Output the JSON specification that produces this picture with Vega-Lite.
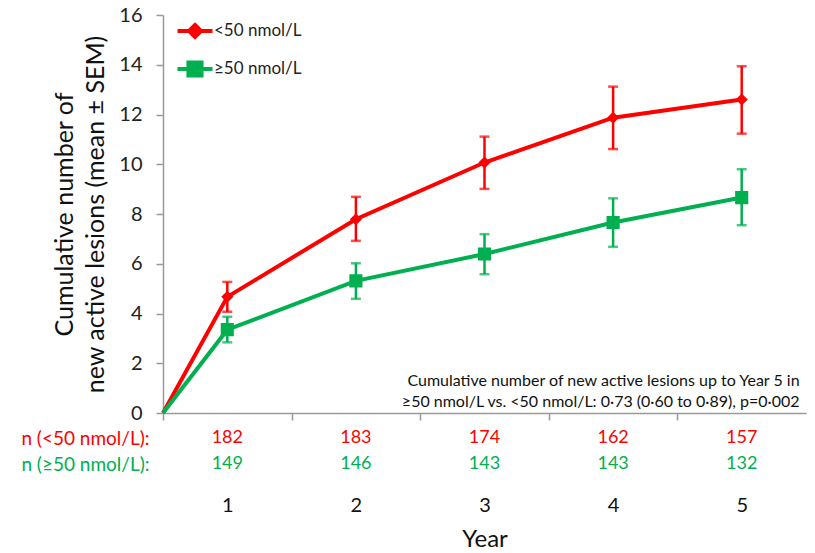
{
  "$schema": "https://vega.github.io/schema/vega-lite/v6.json",
  "padding": {"left": 20, "top": 5, "right": 5, "bottom": 5},
  "background": "white",
  "config": {"view": {"stroke": null}, "font": "Lato", "concat": {"spacing": 2}},
  "datasets": {
    "series": [
      {"group": "<50 nmol/L", "year": 0.5, "mean": 0, "lo": 0, "hi": 0},
      {"group": "<50 nmol/L", "year": 1, "mean": 4.67, "lo": 4.07, "hi": 5.27},
      {"group": "<50 nmol/L", "year": 2, "mean": 7.79, "lo": 6.92, "hi": 8.69},
      {"group": "<50 nmol/L", "year": 3, "mean": 10.07, "lo": 9.01, "hi": 11.11},
      {"group": "<50 nmol/L", "year": 4, "mean": 11.87, "lo": 10.61, "hi": 13.12},
      {"group": "<50 nmol/L", "year": 5, "mean": 12.6, "lo": 11.23, "hi": 13.94},
      {"group": "≥50 nmol/L", "year": 0.5, "mean": 0, "lo": 0, "hi": 0},
      {"group": "≥50 nmol/L", "year": 1, "mean": 3.35, "lo": 2.84, "hi": 3.87},
      {"group": "≥50 nmol/L", "year": 2, "mean": 5.31, "lo": 4.59, "hi": 6.02},
      {"group": "≥50 nmol/L", "year": 3, "mean": 6.39, "lo": 5.58, "hi": 7.19},
      {"group": "≥50 nmol/L", "year": 4, "mean": 7.66, "lo": 6.68, "hi": 8.63},
      {"group": "≥50 nmol/L", "year": 5, "mean": 8.66, "lo": 7.55, "hi": 9.8}
    ],
    "notes": [
      {"x": 5.45, "y": 1.29, "text": "Cumulative number of new active lesions up to Year 5 in"},
      {"x": 5.45, "y": 0.44, "text": "≥50 nmol/L vs. <50 nmol/L: 0·73 (0·60 to 0·89), p=0·002"}
    ],
    "counts": [
      {"row": "n (<50 nmol/L):", "year": 1, "n": 182},
      {"row": "n (<50 nmol/L):", "year": 2, "n": 183},
      {"row": "n (<50 nmol/L):", "year": 3, "n": 174},
      {"row": "n (<50 nmol/L):", "year": 4, "n": 162},
      {"row": "n (<50 nmol/L):", "year": 5, "n": 157},
      {"row": "n (≥50 nmol/L):", "year": 1, "n": 149},
      {"row": "n (≥50 nmol/L):", "year": 2, "n": 146},
      {"row": "n (≥50 nmol/L):", "year": 3, "n": 143},
      {"row": "n (≥50 nmol/L):", "year": 4, "n": 143},
      {"row": "n (≥50 nmol/L):", "year": 5, "n": 132}
    ]
  },
  "resolve": {"scale": {"color": "independent", "x": "independent", "y": "independent"}},
  "vconcat": [
    {
      "width": 643,
      "height": 398,
      "layer": [
        {
          "data": {"name": "series"},
          "mark": {"type": "line", "strokeWidth": 4},
          "encoding": {
            "x": {"field": "year", "type": "quantitative",
              "scale": {"domain": [0.5, 5.5], "nice": false, "zero": false},
              "axis": {"values": [0.5, 1.5, 2.5, 3.5, 4.5], "labels": false, "title": null, "grid": false,
                "domainColor": "#9a9a9a", "domainWidth": 1.5, "tickColor": "#9a9a9a", "tickWidth": 1.5, "tickSize": 7}},
            "y": {"field": "mean", "type": "quantitative",
              "title": ["Cumulative number of", "new active lesions (mean ± SEM)"],
              "scale": {"domain": [0, 16], "nice": false},
              "axis": {"values": [0, 2, 4, 6, 8, 10, 12, 14, 16], "grid": false,
                "titleFontSize": 25, "titleFontWeight": "normal", "titleColor": "#111", "titleLineHeight": 31, "titlePadding": 10,
                "labelFontSize": 20, "labelColor": "#222", "labelPadding": 14,
                "domainColor": "#9a9a9a", "domainWidth": 1.5, "tickColor": "#9a9a9a", "tickWidth": 1.5, "tickSize": 7}},
            "color": {"field": "group", "type": "nominal",
              "scale": {"domain": ["<50 nmol/L", "≥50 nmol/L"], "range": ["#FF0000", "#00B050"]}, "legend": null}
          }
        },
        {
          "data": {"name": "series"},
          "transform": [{"filter": "datum.year >= 1"}],
          "mark": {"type": "rule", "strokeWidth": 2.5},
          "encoding": {
            "x": {"field": "year", "type": "quantitative"},
            "y": {"field": "lo", "type": "quantitative", "title": ["Cumulative number of", "new active lesions (mean ± SEM)"]},
            "y2": {"field": "hi"},
            "color": {"field": "group", "type": "nominal", "legend": null}
          }
        },
        {
          "data": {"name": "series"},
          "transform": [{"filter": "datum.year >= 1"}],
          "mark": {"type": "tick", "orient": "horizontal", "size": 10, "thickness": 2.5},
          "encoding": {
            "x": {"field": "year", "type": "quantitative"},
            "y": {"field": "lo", "type": "quantitative", "title": ["Cumulative number of", "new active lesions (mean ± SEM)"]},
            "color": {"field": "group", "type": "nominal", "legend": null}
          }
        },
        {
          "data": {"name": "series"},
          "transform": [{"filter": "datum.year >= 1"}],
          "mark": {"type": "tick", "orient": "horizontal", "size": 10, "thickness": 2.5},
          "encoding": {
            "x": {"field": "year", "type": "quantitative"},
            "y": {"field": "hi", "type": "quantitative", "title": ["Cumulative number of", "new active lesions (mean ± SEM)"]},
            "color": {"field": "group", "type": "nominal", "legend": null}
          }
        },
        {
          "data": {"name": "series"},
          "transform": [{"filter": "datum.year >= 1"}],
          "mark": {"type": "point", "filled": true, "opacity": 1, "strokeWidth": 0, "size": 306},
          "encoding": {
            "x": {"field": "year", "type": "quantitative"},
            "y": {"field": "mean", "type": "quantitative", "title": ["Cumulative number of", "new active lesions (mean ± SEM)"]},
            "shape": {"field": "group", "type": "nominal",
              "scale": {"domain": ["<50 nmol/L", "≥50 nmol/L"],
                "range": ["M-2,0H2M0,-0.69L0.69,0L0,0.69L-0.69,0Z", "M-2,0H2M-0.75,-0.75H0.75V0.75H-0.75Z"]},
              "legend": {"title": null, "orient": "none", "legendX": 21, "legendY": 5, "symbolStrokeWidth": 4, "symbolSize": 306,
                "labelFontSize": 17, "labelOffset": 8, "rowPadding": 8, "labelColor": "#222", "symbolOpacity": 1}},
            "fill": {"field": "group", "type": "nominal",
              "scale": {"domain": ["<50 nmol/L", "≥50 nmol/L"], "range": ["#FF0000", "#00B050"]}},
            "stroke": {"field": "group", "type": "nominal",
              "scale": {"domain": ["<50 nmol/L", "≥50 nmol/L"], "range": ["#FF0000", "#00B050"]}}
          }
        },
        {
          "data": {"name": "notes"},
          "mark": {"type": "text", "align": "right", "baseline": "middle", "fontSize": 16, "color": "#111"},
          "encoding": {
            "x": {"field": "x", "type": "quantitative"},
            "y": {"field": "y", "type": "quantitative", "title": ["Cumulative number of", "new active lesions (mean ± SEM)"]},
            "text": {"field": "text"}
          }
        }
      ]
    },
    {
      "width": 643,
      "height": 52,
      "data": {"name": "counts"},
      "mark": {"type": "text", "fontSize": 18},
      "encoding": {
        "x": {"field": "year", "type": "quantitative",
          "scale": {"domain": [0.5, 5.5], "nice": false, "zero": false},
          "axis": {"values": [1, 2, 3, 4, 5], "format": "d", "domain": false, "ticks": false, "grid": false,
            "labelFontSize": 20, "labelColor": "#111", "labelPadding": 18,
            "title": "Year", "titleFontSize": 24, "titleFontWeight": "normal", "titleColor": "#111", "titlePadding": 12}},
        "y": {"field": "row", "type": "nominal",
          "scale": {"domain": ["n (<50 nmol/L):", "n (≥50 nmol/L):"], "paddingInner": 0, "paddingOuter": 0},
          "axis": {"title": null, "domain": false, "ticks": false, "labelFontSize": 19, "labelPadding": 14,
            "labelColor": {"condition": {"test": "indexof(datum.value, '<') >= 0", "value": "#FF0000"}, "value": "#00B050"}}},
        "text": {"field": "n"},
        "color": {"field": "row", "type": "nominal",
          "scale": {"domain": ["n (<50 nmol/L):", "n (≥50 nmol/L):"], "range": ["#FF0000", "#00B050"]}, "legend": null}
      }
    }
  ]
}
